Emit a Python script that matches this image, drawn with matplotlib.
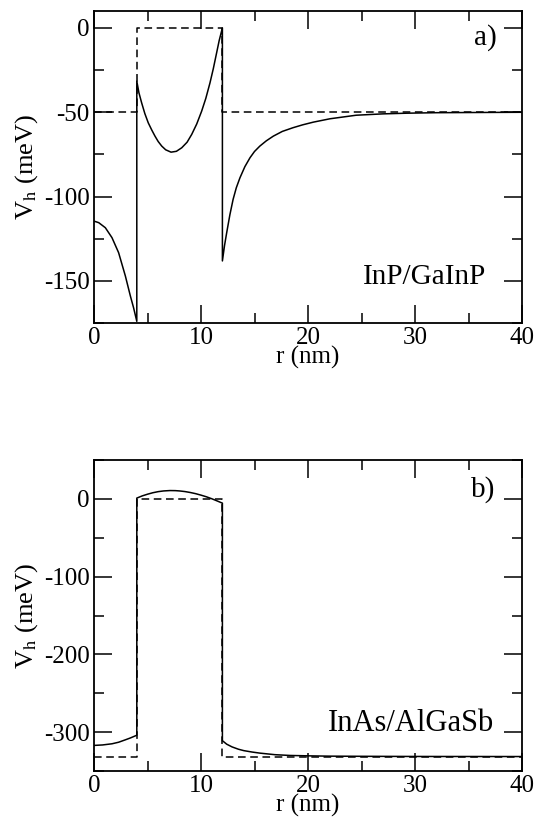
import matplotlib
matplotlib.use("Agg")
import matplotlib.pyplot as plt
from matplotlib.ticker import MultipleLocator

plt.rcParams['font.family'] = ['Liberation Serif', 'DejaVu Serif']
plt.rcParams['mathtext.fontset'] = 'stix'

# ---- Panel a) InP/GaInP ----
r_a_core = [0.0, 0.44, 1.06, 1.68, 2.3, 2.93, 3.4, 3.7, 4.0]
v_a_core = [-114.6, -115.5, -118.5, -124.4, -133.3, -147.1, -159.0, -166.0, -174.0]
r_a_shell = [4.0, 4.2, 4.45, 4.75, 5.07, 5.4, 5.7, 6.0, 6.33, 6.7, 7.2, 7.7, 8.2, 8.7, 9.13, 9.6,
             10.06, 10.45, 10.84, 11.15, 11.46, 11.7, 12.0]
v_a_shell = [-31.6, -38.5, -44.4, -50.8, -56.3, -60.6, -64.2, -67.4, -70.1, -72.3, -73.7, -73.2, -71.1,
             -67.8, -63.2, -57.0, -49.4, -41.8, -32.6, -24.2, -14.8, -7.5, 0.0]
r_a_out = [12.0, 12.2, 12.4, 12.7, 13.0, 13.3, 13.64, 14.1, 14.58, 15.0, 15.5, 16.1, 16.76, 17.6, 18.6,
           19.5, 20.5, 22.06, 24.5, 27.0, 29.2, 32.0, 35.0, 40.0]
v_a_out = [-138.2, -129.0, -121.5, -110.8, -101.7, -94.8, -88.9, -82.3, -77.0, -73.3, -70.1, -67.0, -64.2,
           -61.4, -59.2, -57.5, -55.9, -53.9, -51.8, -51.0, -50.6, -50.3, -50.2, -50.05]
r_a_band = [0, 4, 4, 12, 12, 40]
v_a_band = [-50, -50, 0, 0, -50, -50]

# ---- Panel b) InAs/AlGaSb ----
r_b_core = [0.0, 0.8, 1.68, 2.3, 2.93, 3.4, 4.0]
v_b_core = [-317.1, -316.5, -315.0, -313.0, -309.9, -307.5, -304.0]
r_b_shell = [4.0, 4.5, 5.0, 5.5, 6.0, 6.5, 7.1, 7.6, 8.0, 8.5, 9.0, 9.5, 10.0, 10.5, 11.0, 11.5, 12.0]
v_b_shell = [1.0, 3.8, 6.0, 7.9, 9.3, 10.2, 10.7, 10.6, 10.2, 9.4, 8.2, 6.7, 4.8, 2.7, 0.2, -2.6, -5.5]
r_b_out = [12.0, 12.4, 12.9, 13.5, 14.0, 14.77, 15.5, 16.9, 18.3, 20.0, 22.0, 25.0, 30.0, 40.0]
v_b_out = [-311.0, -315.5, -319.0, -322.0, -323.8, -325.6, -327.0, -329.0, -330.0, -330.5, -330.9, -331.1,
           -331.3, -331.4]
r_b_band = [0, 4, 4, 12, 12, 40]
v_b_band = [-331.5, -331.5, 0, 0, -331.5, -331.5]

fig = plt.figure(figsize=(5.35, 8.18), dpi=100)
W, H = 535, 818
ax1 = fig.add_axes([94 / W, 1 - 323 / H, (522 - 94) / W, (323 - 11) / H])
ax2 = fig.add_axes([94 / W, 1 - 771 / H, (522 - 94) / W, (771 - 460) / H])

def style(ax, ymaj, ymin):
    ax.set_xlim(0, 40)
    ax.xaxis.set_major_locator(MultipleLocator(10))
    ax.xaxis.set_minor_locator(MultipleLocator(5))
    ax.yaxis.set_major_locator(MultipleLocator(ymaj))
    ax.yaxis.set_minor_locator(MultipleLocator(ymin))
    ax.tick_params(which='both', direction='in', top=True, right=True, width=1.1,
                   labelsize=18)
    ax.tick_params(axis='x', which='both', pad=3)
    ax.tick_params(axis='y', which='both', pad=3)
    ax.tick_params(which='major', length=13)
    ax.tick_params(which='minor', length=7)
    for s in ax.spines.values():
        s.set_linewidth(1.3)
    ax.set_xlabel('r (nm)', fontsize=18, labelpad=-2)
    ax.set_ylabel(r'V$_\mathrm{h}$ (meV)', fontsize=19, labelpad=3)

lw = 1.1
dash = (5, 3)
for ax, segs, band in [
    (ax1, [(r_a_core, v_a_core), (r_a_shell, v_a_shell), (r_a_out, v_a_out)], (r_a_band, v_a_band)),
    (ax2, [(r_b_core, v_b_core), (r_b_shell, v_b_shell), (r_b_out, v_b_out)], (r_b_band, v_b_band)),
]:
    ax.plot(band[0], band[1], color='black', lw=lw, dashes=dash)
    xs, ys = [], []
    for rr, vv in segs:
        xs += list(rr)
        ys += list(vv)
    ax.plot(xs, ys, color='black', lw=lw)

ax1.set_ylim(-175, 10)
style(ax1, 50, 25)
ax1.set_yticks([-150, -100, -50, 0])
ax1.set_yticklabels(['-150', '-100', '-50', '0'])
ax1.text(0.94, 0.915, 'a)', transform=ax1.transAxes, ha='right', va='center', fontsize=21)
ax1.text(0.917, 0.125, 'InP/GaInP', transform=ax1.transAxes, ha='right', va='baseline', fontsize=21)

ax2.set_ylim(-350, 50)
style(ax2, 100, 50)
ax2.set_yticks([-300, -200, -100, 0])
ax2.set_yticklabels(['-300', '-200', '-100', '0'])
ax2.text(0.937, 0.905, 'b)', transform=ax2.transAxes, ha='right', va='center', fontsize=21)
ax2.text(0.935, 0.13, 'InAs/AlGaSb', transform=ax2.transAxes, ha='right', va='baseline', fontsize=22)

fig.savefig('out.png', dpi=100)
